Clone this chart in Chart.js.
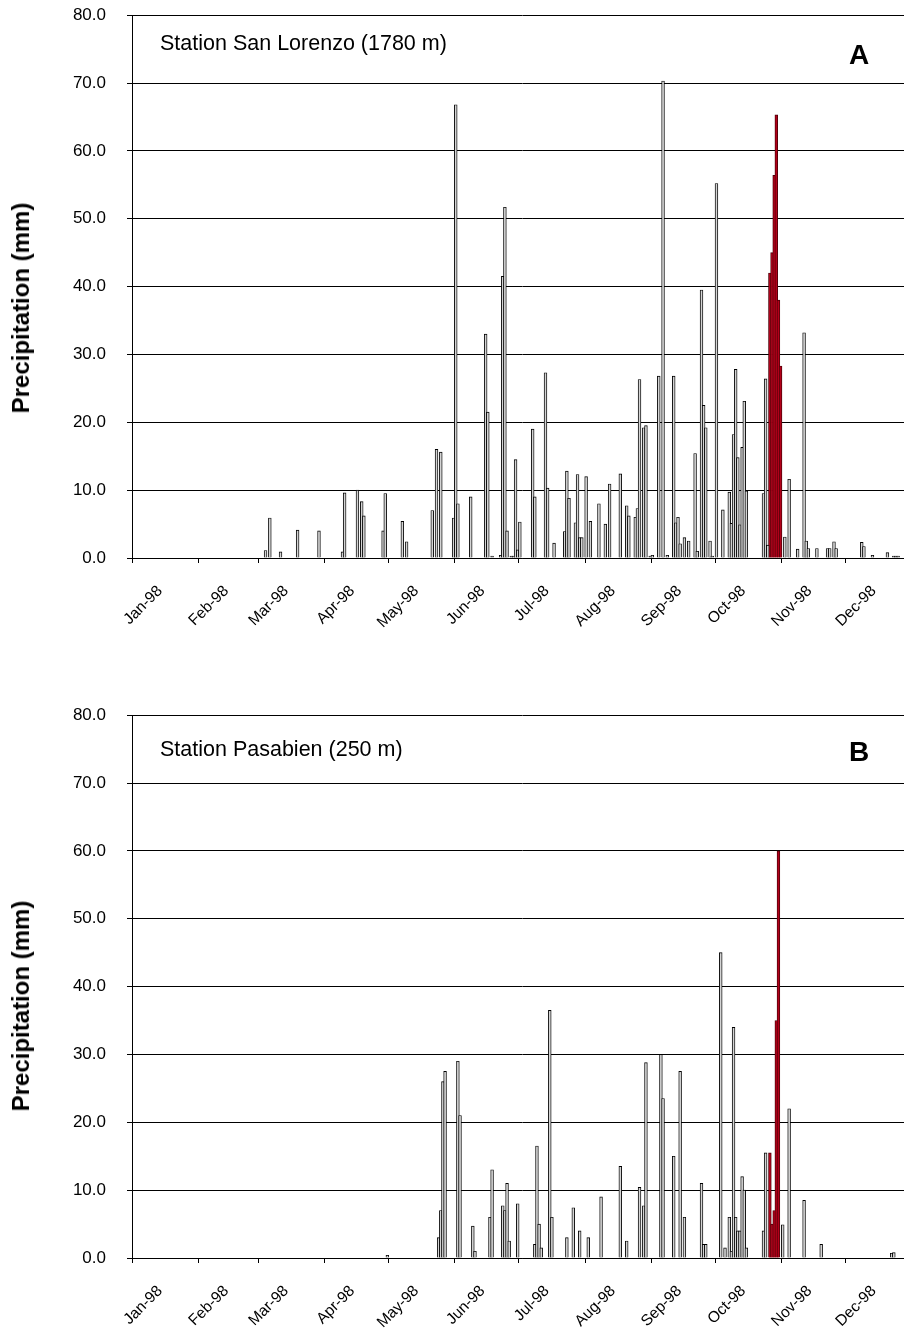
<!DOCTYPE html>
<html>
<head>
<meta charset="utf-8">
<script src="https://cdn.jsdelivr.net/npm/chart.js@4.4.1/dist/chart.umd.min.js"></script>
<style>
  html, body { margin: 0; padding: 0; background: #fff; }
  #page { position: relative; width: 904px; height: 1332px; overflow: hidden; }
  .panel { position: absolute; left: 0; width: 912px; height: 648px; }
  .ytitle { position: absolute; left: 21px; transform: translate(-50%, -50%) rotate(-90deg);
    font: bold 24px "Liberation Sans", Arial, sans-serif; white-space: nowrap; color: #000; }
  .station { position: absolute; left: 160px; font: 21.5px/1 "Liberation Sans", Arial, sans-serif; color: #000; white-space: nowrap; }
  .letter { position: absolute; left: 849px; font: bold 28px/1 "Liberation Sans", Arial, sans-serif; color: #000; }
</style>
</head>
<body>
<div id="page">
  <div class="panel" style="top:-16px"><canvas id="chartA" width="912" height="648"></canvas></div>
  <div class="panel" style="top:684px"><canvas id="chartB" width="912" height="648"></canvas></div>
  <div class="ytitle" style="top:308px">Precipitation (mm)</div>
  <div class="ytitle" style="top:1006px">Precipitation (mm)</div>
  <div class="station" style="top:33px">Station San Lorenzo (1780 m)</div>
  <div class="station" style="top:739px">Station Pasabien (250 m)</div>
  <div class="letter" style="top:41px">A</div>
  <div class="letter" style="top:738px">B</div>
</div>
<script>
// x values are day of year, 0 = 1 Jan 1998
const monthLabels = ['Jan-98', 'Feb-98', 'Mar-98', 'Apr-98', 'May-98', 'Jun-98',
  'Jul-98', 'Aug-98', 'Sep-98', 'Oct-98', 'Nov-98', 'Dec-98'];
const monthStart = [0, 31, 59, 90, 120, 151, 181, 212, 243, 273, 304, 334];

// Station San Lorenzo (1780 m)
const sanLorenzoDays = [62, 64, 69, 77, 87, 98, 99, 105, 107, 108, 117, 118, 126, 128, 140,
  142, 144, 150, 151, 152, 158, 165, 166, 168, 172, 173, 174, 175, 177, 178,
  179, 180, 181, 187, 188, 193, 194, 197, 202, 203, 204, 207, 208, 209, 210,
  212, 214, 218, 221, 223, 228, 231, 232, 235, 236, 237, 239, 240, 242, 243,
  246, 248, 250, 253, 254, 255, 256, 258, 260, 263, 264, 266, 267, 268, 270,
  271, 273, 276, 279, 280, 281, 282, 283, 284, 285, 286, 287, 295, 296, 297,
  305, 307, 311, 314, 315, 316, 320, 325, 326, 328, 329, 341, 342, 346, 353,
  356, 357, 358];
const sanLorenzoMm = [1.1, 5.9, 0.9, 4.1, 4.0, 0.9, 9.6, 10.0, 8.3, 6.2, 4.0, 9.5, 5.4, 2.4, 7.0,
  16.0, 15.6, 5.9, 66.8, 8.0, 9.0, 33.0, 21.5, 0.3, 0.4, 41.5, 51.7, 4.0, 0.3, 0.3,
  14.5, 1.2, 5.3, 19.0, 9.0, 27.3, 10.3, 2.2, 3.9, 12.8, 8.8, 5.2, 12.3, 3.0, 3.0,
  12.0, 5.4, 8.0, 5.0, 10.9, 12.4, 7.7, 6.2, 6.0, 7.3, 26.3, 19.2, 19.5, 0.3, 0.4,
  26.8, 70.3, 0.4, 26.8, 5.2, 6.0, 2.1, 3.0, 2.5, 15.4, 1.0, 39.5, 22.5, 19.2, 2.5,
  0.3, 55.2, 7.1, 9.7, 5.1, 18.2, 27.8, 14.8, 4.9, 16.3, 23.1, 9.9, 9.5, 26.4, 1.9,
  3.1, 11.6, 1.3, 33.2, 2.5, 1.4, 1.4, 1.4, 1.4, 2.4, 1.4, 2.3, 1.7, 0.4, 0.8,
  0.3, 0.3, 0.3];
const sanLorenzoMitchDays = [298, 299, 300, 301, 302, 303];
const sanLorenzoMitchMm = [42.0, 45.0, 56.4, 65.3, 38.0, 28.3];

// Station Pasabien (250 m)
const pasabienDays = [119, 143, 144, 145, 146, 152, 153, 159, 160, 167, 168, 173, 174, 175, 176,
  180, 188, 189, 190, 191, 195, 196, 203, 206, 209, 213, 219, 228, 231, 237,
  239, 240, 247, 248, 253, 256, 258, 266, 267, 268, 275, 277, 279, 280, 281,
  282, 283, 284, 285, 286, 287, 295, 296, 304, 307, 314, 322, 355, 356];
const pasabienMm = [0.4, 3.0, 7.0, 26.0, 27.5, 29.0, 21.0, 4.7, 1.0, 6.0, 13.0, 7.7, 7.0, 11.0, 2.5,
  8.0, 2.0, 16.5, 5.0, 1.5, 36.5, 6.0, 3.0, 7.4, 4.0, 3.0, 9.0, 13.5, 2.5, 10.4,
  7.7, 28.8, 30.0, 23.5, 15.0, 27.5, 6.0, 11.0, 2.0, 2.0, 45.0, 1.5, 6.0, 1.0, 34.0,
  6.0, 4.0, 4.0, 12.0, 10.0, 1.5, 4.0, 15.5, 4.9, 22.0, 8.5, 2.0, 0.7, 0.8];
const pasabienMitchDays = [298, 299, 300, 301, 302];
const pasabienMitchMm = [15.5, 5.0, 7.0, 35.0, 60.0];

const fontFamily = '"Liberation Sans", Arial, sans-serif';

function toPoints(days, mm) {
  return days.map((d, i) => ({ x: d + 0.5, y: mm[i] }));
}

function makeChart(id, days, mm, stormDays, stormMm) {
  const ctx = document.getElementById(id).getContext('2d');
  return new Chart(ctx, {
    type: 'bar',
    data: {
      datasets: [{
        data: toPoints(days, mm),
        backgroundColor: '#d4d4d4',
        borderColor: '#000',
        borderWidth: 0.9,
        barThickness: 2.8,
        grouped: false
      },
      {
        data: toPoints(stormDays, stormMm),
        backgroundColor: '#b3001a',
        borderColor: '#4a0008',
        borderWidth: 0.9,
        barThickness: 2.8,
        grouped: false
      }]
    },
    options: {
      responsive: false,
      animation: false,
      layout: { padding: { top: 14, left: 0, right: 0, bottom: 0 } },
      plugins: { legend: { display: false }, tooltip: { enabled: false } },
      scales: {
        x: {
          type: 'linear',
          min: 0,
          max: 365,
          offset: false,
          afterBuildTicks: (scale) => {
            scale.ticks = monthStart.map(v => ({ value: v }));
          },
          afterFit: (scale) => { scale.height = 74; },
          ticks: {
            autoSkip: false,
            minRotation: 45,
            maxRotation: 45,
            labelOffset: 28,
            padding: 19,
            color: '#000',
            font: { family: fontFamily, size: 15.5 },
            callback: (v, i) => monthLabels[i]
          },
          grid: { offset: false, drawOnChartArea: false, drawTicks: true, tickLength: 5, color: '#000' },
          border: { color: '#000', width: 1 }
        },
        y: {
          min: 0,
          max: 80,
          afterFit: (scale) => { scale.width = 132; },
          ticks: {
            stepSize: 10,
            padding: 21,
            color: '#000',
            font: { family: fontFamily, size: 17 },
            callback: (v) => v.toFixed(1)
          },
          grid: { color: '#000', lineWidth: 1, drawTicks: true, tickLength: 5 },
          border: { color: '#000', width: 1 }
        }
      }
    }
  });
}

makeChart('chartA', sanLorenzoDays, sanLorenzoMm, sanLorenzoMitchDays, sanLorenzoMitchMm);
makeChart('chartB', pasabienDays, pasabienMm, pasabienMitchDays, pasabienMitchMm);
</script>
</body>
</html>
